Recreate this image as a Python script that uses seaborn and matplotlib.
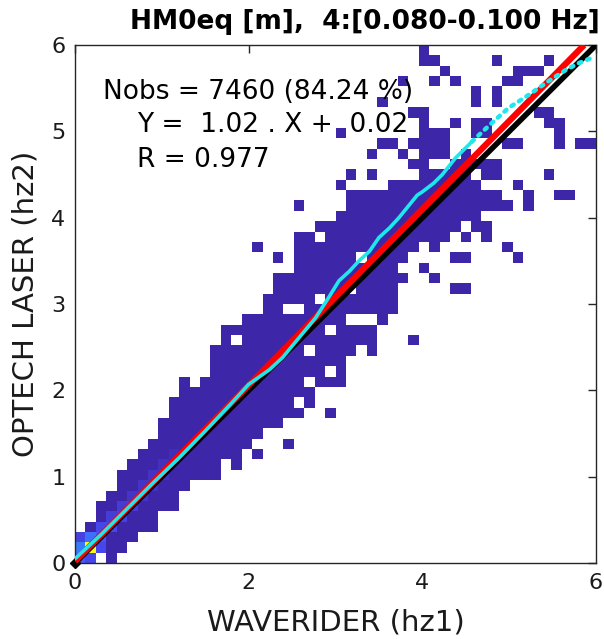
import numpy as np
import pandas as pd
import matplotlib
matplotlib.use("Agg")
import matplotlib.pyplot as plt
import seaborn as sns
from matplotlib.colors import LinearSegmentedColormap

# ---------------- data ----------------
BIN = 0.12          # bin width (m), 50 x 50 grid over 0..6
NBINS = 50

# occupied cells per row (row index = y bin, values = x-bin indices / ranges)
occupied_rows = {
    0: "0-1,3", 1: "0-4", 2: "0-5", 3: "1-7", 4: "2-7", 5: "2-9", 6: "3-9",
    7: "4-10", 8: "4-13", 9: "5-13,15", 10: "6-15,17", 11: "7-16,20",
    12: "8-17", 13: "8-19", 14: "9-21,24", 15: "9-20,22", 16: "10-22",
    17: "10,12-21,23-25", 18: "13-23,25", 19: "13-25", 20: "13-21,23-26,28",
    21: "14,16-28,32", 22: "14-23,25-28", 23: "16-25,29", 24: "18-19,22-30",
    25: "18-22,24-30", 26: "19-25,27-30,36-37", 27: "19-31,34", 28: "21-30,33",
    29: "19,21-26,28-31,36-37,42", 30: "17,21-32,34,41", 31: "21-22,24-35,37,39",
    32: "23-36,38-39", 33: "25-38", 34: "21,26-41,43", 35: "26-40,43,46-47",
    36: "25,30-38,42", 37: "26,28,33-37,39-40,45", 38: "32-33,36-40",
    39: "28,31,33-35,37", 40: "29-30,32-35,41-42,46,48-49",
    41: "25,33-35,38-39,46", 42: "33,36,38-39,45-46", 43: "32-33,44-45",
    44: "29,38,40", 45: "38,40", 46: "31,34,36,41-42", 47: "35,42-44",
    48: "33-34,40,45", 49: "33",
}
base_count = 1
# (row, col): count for the denser cells near the origin
hot_cells = {
    (0, 0): 45, (0, 1): 30, (1, 0): 70, (1, 1): 300, (1, 2): 30,
    (2, 0): 25, (2, 1): 60, (2, 2): 40, (3, 2): 30, (3, 3): 30,
    (4, 3): 22, (4, 4): 25, (5, 4): 20, (5, 5): 20, (6, 5): 15,
    (6, 6): 15, (7, 6): 14, (7, 7): 12, (8, 7): 12, (8, 8): 10,
    (9, 8): 10, (10, 9): 8,
}
color_max = 300

# quantile-quantile curve (cyan)
qq_x = [0.0, 0.3, 0.6, 0.9, 1.2, 1.5, 1.8, 2.0, 2.24, 2.39, 2.58, 2.77,
        2.93, 3.04, 3.16, 3.27, 3.39, 3.50, 3.62, 3.73, 3.94, 4.0, 4.13,
        4.23, 4.38, 4.48, 4.57]
qq_y = [0.05, 0.33, 0.63, 0.93, 1.22, 1.53, 1.85, 2.07, 2.24, 2.38, 2.61,
        2.84, 3.09, 3.27, 3.38, 3.50, 3.61, 3.77, 3.88, 4.0, 4.26, 4.30,
        4.40, 4.50, 4.69, 4.79, 4.88]
qq_dot_x = [4.57, 4.76, 4.99, 5.22, 5.45, 5.65, 5.80, 5.97]
qq_dot_y = [4.88, 5.06, 5.27, 5.42, 5.58, 5.71, 5.79, 5.86]

slope, intercept = 1.02, 0.02
title = "HM0eq [m],  4:[0.080-0.100 Hz]"
stats_lines = ["Nobs = 7460 (84.24 %)", "Y =  1.02 . X +  0.02", "R = 0.977"]
xlabel = "WAVERIDER (hz1)"
ylabel = "OPTECH LASER (hz2)"
xticks = [0, 2, 4, 6]
yticks = [0, 1, 2, 3, 4, 5, 6]

# ---------------- build table ----------------
def expand(spec):
    out = []
    for part in spec.split(","):
        if "-" in part:
            a, b = part.split("-")
            out.extend(range(int(a), int(b) + 1))
        else:
            out.append(int(part))
    return out

recs = []
for r, spec in occupied_rows.items():
    for c in expand(spec):
        recs.append(((c + 0.5) * BIN, (r + 0.5) * BIN,
                     hot_cells.get((r, c), base_count)))
df = pd.DataFrame(recs, columns=["x", "y", "n"])

parula = LinearSegmentedColormap.from_list("parula", [
    (0.2422, 0.1504, 0.6603), (0.2803, 0.2782, 0.9221), (0.2440, 0.4358, 0.9988),
    (0.1540, 0.5902, 0.9218), (0.0297, 0.7082, 0.8163), (0.1938, 0.7758, 0.6251),
    (0.5044, 0.7993, 0.3480), (0.8000, 0.7464, 0.1650), (0.9871, 0.7348, 0.2438),
    (0.9598, 0.8870, 0.1528), (0.9769, 0.9839, 0.0805)])

# ---------------- plot ----------------
sns.set_theme(style="white")
plt.rcParams["font.family"] = ["DejaVu Sans"]

fig = plt.figure(figsize=(6.04, 6.39), dpi=100)
ax = fig.add_axes([0.1242, 0.1189, 0.8626, 0.8106])

edges = list(np.linspace(0, 6, NBINS + 1))
sns.histplot(data=df, x="x", y="y", weights="n", bins=edges, cmap=parula,
             thresh=0, ax=ax)
ax.collections[0].set_clim(0, color_max)

lim = [0, 6]
ax.plot(lim, lim, color="black", lw=4, solid_capstyle="butt", zorder=3)
ax.plot([0], [0], marker="D", color="black", ms=5, zorder=3, clip_on=False)
xr = np.array([0, (6 - intercept) / slope])
ax.plot(xr, slope * xr + intercept, color="#ff0000", lw=4.5,
        solid_capstyle="butt", zorder=4)
ax.plot(qq_x, qq_y, color="#1ee8ec", lw=2.6, zorder=5)
ax.plot(qq_dot_x, qq_dot_y, color="#1ee8ec", lw=3.2,
        linestyle=(0, (0.6, 1.4)), dash_capstyle="round", zorder=5)

ax.set_xlim(0, 6)
ax.set_ylim(0, 6)
ax.set_xticks(xticks)
ax.set_yticks(yticks)
ax.tick_params(direction="in", length=6, width=1, top=True, right=True,
               labelsize=16, pad=7, color="#262626", labelcolor="#1a1a1a")
for s in ax.spines.values():
    s.set_visible(True)
    s.set_color("#262626")
    s.set_linewidth(1)
ax.set_xlabel(xlabel, fontsize=21, labelpad=11, color="#1a1a1a")
ax.set_ylabel(ylabel, fontsize=21, labelpad=8, color="#1a1a1a")

ax.text(0.32, 5.38, stats_lines[0], fontsize=19, va="baseline", ha="left",
        color="black", zorder=6)
ax.text(0.71, 4.99, stats_lines[1], fontsize=19, va="baseline", ha="left",
        color="black", zorder=6)
ax.text(0.71, 4.59, stats_lines[2], fontsize=19, va="baseline", ha="left",
        color="black", zorder=6)

fig.text(365 / 604, 1 - 29 / 639, title, fontsize=19, fontweight="bold",
         ha="center", va="baseline", color="black")

fig.savefig("out.png", dpi=100)
